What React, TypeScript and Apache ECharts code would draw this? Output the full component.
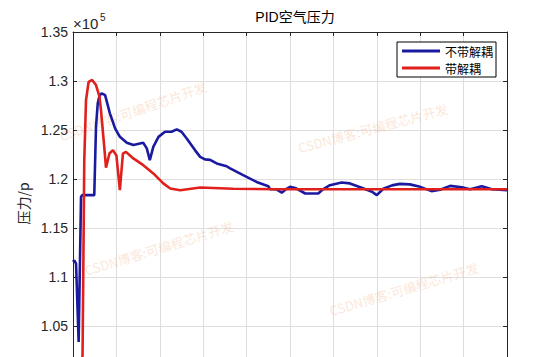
import React, { useEffect, useRef } from "react";
import * as echarts from "echarts";

const titleText = "PID空气压力";
const yAxisName = "压力/p";
const seriesNames = ["不带解耦", "带解耦"];
const watermarkText = "CSDN博客:可编程芯片开发";
const yMin = 1.0;
const yMax = 1.35;
const yInterval = 0.05;
const xMin = 0;
const xMax = 100;
const xInterval = 10;

const timeBlue = [
  0, 0.3, 0.7, 1.3, 1.85, 2.1, 4.9, 5.3, 5.7, 6.1, 6.6, 7.4, 8.5, 9.7, 10.8, 12.4, 13.9, 16.2, 17.0, 17.7,
  18.5, 19.7, 21.2, 22.7, 23.9, 25.0, 26.2, 28.1, 29.3, 30.4, 31.6, 33.1, 35.4, 36.2, 39.2, 42.3, 45.0, 45.4,
  46.8, 48.1, 49.2, 50.0, 51.4, 53.5, 56.5, 57.6, 59.2, 61.9, 63.8, 66.5, 68.9, 70.0, 71.5, 73.5, 75.3, 77.6,
  80.0, 82.6, 84.6, 86.9, 89.6, 91.5, 94.2, 96.5, 100,
];
const pressureBlue = [
  1.1154, 1.117, 1.1137, 1.0337, 1.1818, 1.1835, 1.1835, 1.2533, 1.2772, 1.285, 1.2874, 1.2856, 1.267, 1.2516,
  1.243, 1.2369, 1.2346, 1.2369, 1.2312, 1.2193, 1.2328, 1.243, 1.2482, 1.2482, 1.2506, 1.2482, 1.2414, 1.2295,
  1.2226, 1.22, 1.2195, 1.2159, 1.213, 1.2108, 1.204, 1.197, 1.1927, 1.1896, 1.1896, 1.186, 1.19, 1.192, 1.1905,
  1.1852, 1.1852, 1.1895, 1.1937, 1.1965, 1.1955, 1.191, 1.187, 1.1835, 1.19, 1.1935, 1.195, 1.1945, 1.192,
  1.1876, 1.189, 1.193, 1.1915, 1.1896, 1.1927, 1.1896, 1.1886,
];

const timeRed = [
  0, 1.6, 2.2, 2.6, 3.0, 3.6, 4.4, 5.3, 6.1, 6.45, 7.2, 7.6, 8.4, 9.2, 10.0, 10.8, 11.5, 12.2, 13.9, 16.2,
  18.5, 20.8, 22.4, 24.7, 29.3, 36.9, 47.7, 100,
];
const pressureRed = [
  1.0, 1.0, 1.02, 1.2193, 1.2805, 1.2992, 1.301, 1.2959, 1.284, 1.27, 1.2328, 1.2115, 1.226, 1.2295, 1.224,
  1.1886, 1.226, 1.2277, 1.221, 1.2141, 1.2057, 1.1955, 1.1903, 1.1886, 1.1914, 1.19, 1.1895, 1.1895,
];

const watermarks = [
  { x: 133, y: 111, r: 19 },
  { x: 373, y: 128, r: 15 },
  { x: 159, y: 248, r: 17 },
  { x: 404, y: 289, r: 16.5 },
];

const pair = (xs: number[], ys: number[]) => xs.map((x, i) => [x, ys[i]]);

export default function App() {
  const ref = useRef<HTMLDivElement>(null);
  useEffect(() => {
    if (!ref.current) return;
    const chart = echarts.init(ref.current, null, { renderer: "svg" });
    const sans = "'Liberation Sans', Arial, 'Noto Sans CJK SC', sans-serif";
    const cjk = "'Noto Sans CJK SC', 'Liberation Sans', sans-serif";
    chart.setOption({
      animation: false,
      backgroundColor: "#ffffff",
      title: {
        text: titleText,
        left: 290,
        textAlign: "center",
        top: 5,
        textStyle: { fontSize: 14, fontWeight: "normal", color: "#000", fontFamily: sans },
      },
      legend: {
        data: seriesNames,
        orient: "vertical",
        left: 397,
        top: 42,
        padding: [3, 3, 3, 5],
        itemGap: 5,
        itemWidth: 38,
        itemHeight: 3,
        icon: "rect",
        borderColor: "#000",
        borderWidth: 1,
        borderRadius: 0,
        backgroundColor: "#fff",
        textStyle: { fontSize: 12, color: "#000", fontFamily: cjk },
      },
      grid: { left: 73, right: 53, top: 32, bottom: 5, containLabel: false },
      xAxis: [
        {
          type: "value",
          min: xMin,
          max: xMax,
          interval: xInterval,
          axisLabel: { show: false },
          axisLine: { show: false },
          axisTick: { show: false },
          splitLine: { show: true, lineStyle: { color: "#dedede", width: 1 } },
        },
        {
          type: "value",
          position: "top",
          min: xMin,
          max: xMax,
          interval: xInterval,
          axisLabel: { show: false },
          axisLine: { show: true, onZero: false, lineStyle: { color: "#262626", width: 1 } },
          axisTick: { show: true, inside: true, length: 4, lineStyle: { color: "#262626" } },
          splitLine: { show: false },
        },
      ],
      yAxis: [
        {
          type: "value",
          min: yMin,
          max: yMax,
          interval: yInterval,
          name: yAxisName,
          nameLocation: "middle",
          nameGap: 38,
          nameTextStyle: { fontSize: 14, color: "#262626", fontFamily: cjk },
          axisLine: { show: true, onZero: false, lineStyle: { color: "#262626", width: 1 } },
          axisTick: { show: true, inside: true, length: 4, lineStyle: { color: "#262626" } },
          axisLabel: {
            margin: 5,
            fontSize: 14,
            color: "#262626",
            fontFamily: sans,
            showMinLabel: false,
            formatter: (v: number) => String(parseFloat(v.toFixed(2))),
          },
          splitLine: { show: true, lineStyle: { color: "#dedede", width: 1 } },
        },
        {
          type: "value",
          position: "right",
          min: yMin,
          max: yMax,
          interval: yInterval,
          axisLine: { show: true, onZero: false, lineStyle: { color: "#262626", width: 1 } },
          axisTick: { show: true, inside: true, length: 4, lineStyle: { color: "#262626" } },
          axisLabel: { show: false },
          splitLine: { show: false },
        },
      ],
      graphic: [
        ...watermarks.map((w) => ({
          type: "text",
          x: w.x,
          y: w.y,
          rotation: (w.r * Math.PI) / 180,
          silent: true,
          z: 1,
          style: {
            text: watermarkText,
            fontSize: 13,
            fontFamily: cjk,
            fill: "rgba(240,170,120,0.3)",
            align: "center",
            verticalAlign: "middle",
          },
        })),
        {
          type: "text",
          left: 73,
          top: 16,
          style: { text: "×10", fontSize: 15, fontFamily: sans, fill: "#262626" },
        },
        {
          type: "text",
          left: 100,
          top: 12,
          style: { text: "5", fontSize: 10, fontFamily: sans, fill: "#262626" },
        },
      ],
      series: [
        {
          name: seriesNames[0],
          type: "line",
          data: pair(timeBlue, pressureBlue),
          symbol: "none",
          smooth: false,
          lineStyle: { color: "#1a1aa0", width: 2.6 },
          itemStyle: { color: "#1a1aa0" },
          z: 3,
        },
        {
          name: seriesNames[1],
          type: "line",
          data: pair(timeRed, pressureRed),
          symbol: "none",
          smooth: false,
          lineStyle: { color: "#e0201c", width: 2.6 },
          itemStyle: { color: "#e0201c" },
          z: 4,
        },
      ],
    });
    return () => chart.dispose();
  }, []);
  return (
    <div
      ref={ref}
      style={{ position: "fixed", left: 0, top: 0, width: 560, height: 380, background: "#fff" }}
    />
  );
}
